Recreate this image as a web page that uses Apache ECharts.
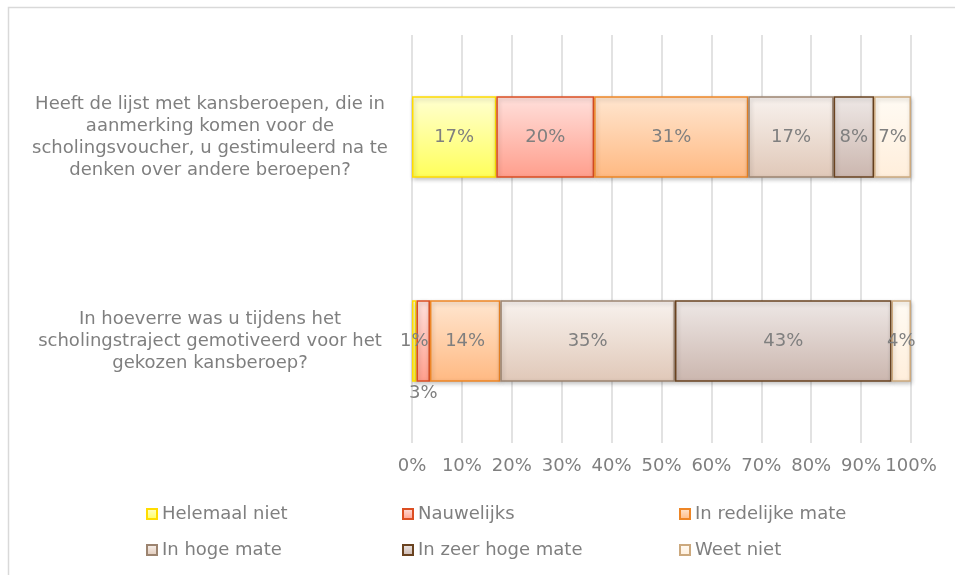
<!DOCTYPE html>
<html>
<head>
<meta charset="utf-8">
<script src="https://cdn.jsdelivr.net/npm/echarts@6/dist/echarts.min.js"></script>
<style>
  html, body { margin: 0; padding: 0; background: #fff; }
  #chart { width: 955px; height: 575px; }
</style>
</head>
<body>
<div id="chart"></div>
<script>
const categories = [
  'Heeft de lijst met kansberoepen, die in\naanmerking komen voor de\nscholingsvoucher, u gestimuleerd na te\ndenken over andere beroepen?',
  'In hoeverre was u tijdens het\nscholingstraject gemotiveerd voor het\ngekozen kansberoep?'
]
const seriesNames = ['Helemaal niet', 'Nauwelijks', 'In redelijke mate', 'In hoge mate', 'In zeer hoge mate', 'Weet niet']
const helemaalNiet = [16.9, 0.9]
const nauwelijks = [19.6, 2.7]
const redelijkeMate = [30.9, 14.1]
const hogeMate = [17.1, 35.0]
const zeerHogeMate = [8.1, 43.4]
const weetNiet = [7.4, 3.9]
const tickLabels = ['0%', '10%', '20%', '30%', '40%', '50%', '60%', '70%', '80%', '90%', '100%']

const values = [helemaalNiet, nauwelijks, redelijkeMate, hogeMate, zeerHogeMate, weetNiet]
const styles = [
  { top: '#ffffd2', bottom: '#ffff5a', border: '#ffdc00' },
  { top: '#ffe0dc', bottom: '#ff9e8c', border: '#dc4e22' },
  { top: '#ffe6d0', bottom: '#ffb982', border: '#ee8626' },
  { top: '#f8f2ee', bottom: '#e0c8b8', border: '#9c8470' },
  { top: '#eee8e6', bottom: '#cbb6ae', border: '#6a4320' },
  { top: '#fffbf4', bottom: '#ffeedb', border: '#cca97e' }
]
const textColor = '#7f7f7f'
const font = 'DejaVu Sans, Verdana, sans-serif'

function grad (s) {
  return {
    type: 'linear', x: 0, y: 0, x2: 0, y2: 1,
    colorStops: [{ offset: 0, color: s.top }, { offset: 1, color: s.bottom }]
  }
}

const series = seriesNames.map((name, i) => ({
  name: name,
  type: 'bar',
  stack: 'total',
  barWidth: '40%',
  itemStyle: {
    color: grad(styles[i]),
    borderColor: styles[i].border,
    borderWidth: 1.5,
    shadowBlur: 4,
    shadowOffsetX: 1,
    shadowOffsetY: 2,
    shadowColor: 'rgba(0,0,0,0.22)'
  },
  label: {
    show: true,
    position: 'inside',
    color: textColor,
    fontFamily: font,
    fontSize: 18,
    formatter: p => Math.round(p.value) + '%'
  },
  data: values[i].map((v, j) => {
    // Excel pushed the tiny "Nauwelijks" label of row 2 below the bar
    if (i === 1 && j === 1) {
      return { value: v, label: { position: 'bottom', distance: 3 } }
    }
    return v
  })
}))

const legendPos = [
  { left: 146, top: 505 }, { left: 402, top: 505 }, { left: 679, top: 505 },
  { left: 146, top: 541 }, { left: 402, top: 541 }, { left: 679, top: 541 }
]
const legends = seriesNames.map((name, i) => ({
  data: [name],
  left: legendPos[i].left,
  top: legendPos[i].top,
  itemWidth: 10,
  itemHeight: 10,
  itemGap: 0,
  selectedMode: false,
  padding: 0,
  textStyle: { color: textColor, fontFamily: font, fontSize: 18, padding: [0, 0, 0, 0] },
  icon: 'rect'
}))

const chart = echarts.init(document.getElementById('chart'))
chart.setOption({
  animation: false,
  backgroundColor: '#fff',
  graphic: [{
    type: 'rect',
    left: 6,
    top: 5,
    shape: { width: 970, height: 590 },
    style: { fill: 'none', stroke: '#d9d9d9', lineWidth: 1.5 },
    silent: true
  }],
  grid: { left: 412, right: 44, top: 35, bottom: 132 },
  legend: legends,
  xAxis: {
    type: 'value',
    min: 0,
    max: 100,
    interval: 10,
    axisLine: { show: false },
    axisTick: { show: false },
    splitLine: { lineStyle: { color: '#d9d9d9', width: 1.5 } },
    axisLabel: {
      color: textColor,
      fontFamily: font,
      fontSize: 18,
      margin: 14,
      formatter: v => tickLabels[Math.round(v / 10)]
    }
  },
  yAxis: {
    type: 'category',
    inverse: true,
    data: categories,
    axisLine: { show: false },
    axisTick: { show: false },
    axisLabel: {
      color: textColor,
      fontFamily: font,
      fontSize: 18,
      lineHeight: 22,
      align: 'center',
      margin: 202
    }
  },
  series: series
})
</script>
</body>
</html>
